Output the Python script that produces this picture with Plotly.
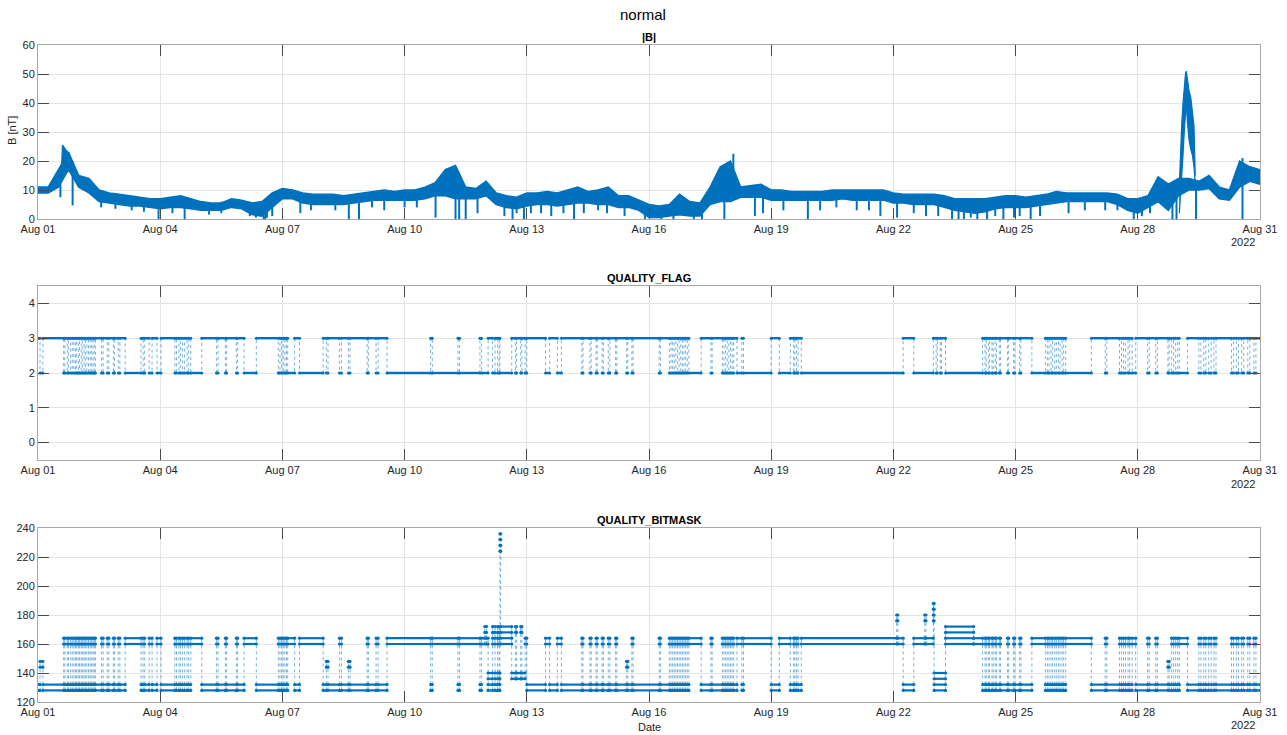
import plotly.graph_objects as go
from datetime import datetime, timedelta

BLUE = "#0072BD"
FONT = "Liberation Sans, Arial, Helvetica, sans-serif"
START = datetime(2022, 8, 1)

# ---------------- axis ticks ----------------
X_TICK_DAYS = [0, 3, 6, 9, 12, 15, 18, 21, 24, 27, 30]
X_TICK_TEXT = ["Aug 01", "Aug 04", "Aug 07", "Aug 10", "Aug 13", "Aug 16",
               "Aug 19", "Aug 22", "Aug 25", "Aug 28", "Aug 31"]
YEAR_TEXT = "2022"

# ---------------- |B| envelope, one reading every 6 h (low / high of band) ----------------
B_STEP_DAYS = 0.25
B_LO = [
    9, 9, 11, 17,        11, 9, 6, 5.5,       5, 4.5, 4.5, 4,      3.5, 4, 4, 3.5,
    3, 3, 3, 4,          3.5, 1.5, 1, 4,      7, 7, 5.5, 5,        5, 5, 5, 5.5,
    6, 6.5, 6.5, 6.5,    6.5, 6.5, 7, 8,      8, 7, 7, 7,          8, 5, 4, 3.5,
    4.5, 5, 5, 4.5,      5, 5.5, 5.5, 5,      5, 4, 4, 3,          0.5, 0.5, 1, 1.5,
    1, 1, 5, 6,          6, 7.5, 7.5, 7.5,    6.5, 6.5, 6.5, 6.5,  6.5, 6.5, 6.5, 7,
    6.5, 6.5, 6.5, 6.5,  5.5, 5.5, 5, 5,      5, 4, 3, 2.5,        2, 2.5, 3.5, 4,
    4, 4, 4.5, 5,        5.5, 6, 6, 6,        6, 6, 5, 3,          2, 4, 6, 3,
    8, 10, 10, 10.5,     7, 6.5, 11, 13,
    12,
]
B_HI = [
    11, 11, 17, 23,      15, 14, 10, 9,       8.5, 8, 7.5, 7,      7, 7.5, 8, 7,
    6, 5.5, 5.5, 7,      6.5, 5.5, 6, 9,      10.5, 10, 9, 8.5,    8.5, 8.5, 8, 8.5,
    9, 9.5, 10, 9.5,     10, 10, 11, 12.5,    17, 18.5, 11, 10.5,  13, 9, 8, 7.5,
    9, 9, 9.5, 9,        10, 11, 9.5, 10,     11, 8, 8, 6.5,       5, 4.5, 5, 8.5,
    6, 5.5, 11, 18,      20, 11, 11.5, 12,    10, 10, 9.5, 9.5,    9.5, 9.5, 10, 10,
    10, 10, 10, 10,      9, 8.5, 8.5, 8.5,    8.5, 8, 7, 7,        7, 7, 7.5, 8,
    8, 7.5, 8, 8.5,      9.5, 9, 9, 9,        9, 9, 8.5, 7,        7, 8, 14.5, 12,
    14, 14, 13, 15,      11, 10, 20, 18,
    17,
]
# storm peak on Aug 01/02 (finer readings)
P1_T = [0.58, 0.60, 0.65, 0.70, 0.75, 0.80, 0.83]
P1_LO = [15, 17, 19, 18, 18, 17, 16]
P1_HI = [18, 25.5, 24.5, 23.5, 23, 21.5, 20]
# storm peak on Aug 29 (finer readings)
P2_T = [28.02, 28.05, 28.08, 28.11, 28.14, 28.17, 28.19, 28.22, 28.26, 28.30, 28.34, 28.38, 28.41]
P2_LO = [2, 8, 14, 22, 30, 38, 40, 33, 27, 24, 22, 18, 12]
P2_HI = [12, 24, 33, 40, 46, 50, 51, 47, 44, 42, 37, 32, 15]

# short excursions (dips / spikes) of |B|
B_SPIKE_T = [0.55, 0.85, 1.55, 1.90, 2.30, 2.60, 2.96, 3.30, 3.60, 4.20,
             4.50, 5.20, 5.35, 5.54, 5.58, 5.62, 5.75, 6.44, 6.70, 7.30,
             7.63, 7.88, 8.20, 8.50, 9.00, 9.30, 9.76, 10.25, 10.34, 10.50,
             10.79, 11.45, 11.65, 11.75, 11.93, 12.10, 12.35, 12.60, 12.90, 13.16,
             13.40, 13.75, 13.97, 14.40, 14.90, 15.30, 15.60, 16.10, 16.30, 16.85,
             17.07, 17.60, 17.80, 18.30, 18.90, 19.20, 19.60, 20.10, 20.40, 20.68,
             21.09, 21.50, 21.80, 22.10, 22.44, 22.60, 22.73, 22.90, 23.06, 23.30,
             23.50, 23.70, 23.96, 24.10, 24.37, 24.60, 25.30, 25.70, 26.20, 26.50,
             26.90, 27.10, 27.30, 27.85, 27.95, 28.43, 29.57]
B_SPIKE_LO = [7.5, 4.7, 4, 3.5, 3, 2.5, 0, 2, 0, 1.5,
              2, 1, 0.5, 0, 0, 0.5, 1, 2, 3, 3,
              0, 0, 4, 3, 4, 4, 0.5, 0, 0, 0,
              2, 1, 0, 2, 0, 2, 2, 1, 2, 0,
              2, 3, 2, 1, 0, 0, 0, 0, 0, 0,
              10, 1, 2, 3, 0, 3, 4, 3, 3, 1,
              0.5, 2, 1, 1, 0, 0, 0, 0.5, 0, 0,
              1, 0, 0.5, 1, 0, 1, 2, 3, 3, 3,
              0, 1, 2, 0, 0, 0, 0]
B_SPIKE_HI = [14, 20, 9, 8, 7, 7, 6, 7, 6, 5.5,
              6, 6, 5, 5, 5, 5, 7, 8, 8, 8,
              7, 7, 9, 9, 9, 9, 8, 12, 12, 10,
              9, 7, 7, 7, 7, 8, 8, 8, 8, 8,
              9, 9, 9, 7, 5, 4, 4, 5, 5, 12,
              22.5, 10, 10, 9, 9, 9, 9, 9, 9, 9,
              8, 8, 8, 8, 7, 7, 6, 6, 6, 7,
              7, 7, 7, 7, 7, 7, 8, 8, 8, 8,
              6, 7, 8, 10, 10, 13, 21]

# ---------------- QUALITY_FLAG: change times (day) and new value ----------------
FLAG_T = [
    0.00, 0.05, 0.12, 0.63, 0.66, 0.72, 0.75, 0.80, 0.84, 0.88, 0.92, 0.95, 0.99,
    1.02, 1.06, 1.09, 1.13, 1.16, 1.20, 1.24, 1.28, 1.31, 1.35, 1.38, 1.41, 1.56, 1.60, 1.70, 1.74, 1.85, 1.88, 1.97,
    2.01, 2.14, 2.53, 2.58, 2.62, 2.73, 2.80, 2.92,
    3.02, 3.36, 3.40, 3.46, 3.50, 3.55, 3.60, 3.66, 3.70, 3.75,
    4.02, 4.38, 4.42, 4.60, 4.63, 4.87, 4.90,
    5.06, 5.36, 5.90, 5.94, 5.98,
    6.02, 6.06, 6.10, 6.13, 6.30, 6.42,
    7.00, 7.08, 7.12, 7.40, 7.45, 7.62, 7.66,
    8.08, 8.11, 8.30, 8.35, 8.57,
    9.64, 9.68,
    10.31, 10.35, 10.85, 10.89,
    11.05, 11.16, 11.22, 11.28, 11.32, 11.34, 11.63, 11.72, 11.75, 11.85, 11.88, 11.96,
    12.00, 12.46, 12.56, 12.75, 12.85,
    13.35, 13.38, 13.55, 13.58, 13.70, 13.73, 13.85, 13.88,
    14.00, 14.04, 14.18, 14.21, 14.45, 14.48, 14.58, 14.61,
    15.25, 15.28, 15.50, 15.54, 15.58, 15.62, 15.66, 15.70, 15.74, 15.78, 15.82, 15.86, 15.90, 15.94, 15.98,
    16.28, 16.52, 16.55, 16.80, 16.84, 16.88, 16.92, 16.96,
    17.00, 17.04, 17.08, 17.16, 17.28, 17.32,
    18.00, 18.20, 18.47, 18.55, 18.58, 18.62, 18.66, 18.74,
    21.24, 21.50, 21.98,
    22.05, 22.08, 22.15, 22.18, 22.28,
    23.19, 23.25, 23.28, 23.33, 23.36, 23.42, 23.45, 23.50, 23.53, 23.60, 23.63, 23.80, 23.83, 23.95, 23.98,
    24.10, 24.13, 24.40, 24.73, 24.78, 24.82, 24.87, 24.91, 24.96,
    25.00, 25.05, 25.09, 25.14, 25.18, 25.23, 25.86,
    26.20, 26.24, 26.55, 26.60, 26.65, 26.70, 26.76, 26.80, 26.86, 26.95,
    27.24, 27.28, 27.44, 27.48, 27.74, 27.77, 27.83, 27.88, 27.93, 27.98,
    28.02, 28.22, 28.50, 28.55, 28.62, 28.67, 28.74, 28.80, 28.87, 28.92,
    29.30, 29.35, 29.42, 29.47, 29.55, 29.60, 29.70, 29.75, 29.85, 29.90,
    30.00,
]
FLAG_V = [
    3, 2, 3, 2, 3, 2, 3, 2, 3, 2, 3, 2, 3,
    2, 3, 2, 3, 2, 3, 2, 3, 2, 3, 2, 3, 2, 3, 2, 3, 2, 3, 2,
    3, 2, 3, 2, 3, 2, 3, 2,
    3, 2, 3, 2, 3, 2, 3, 2, 3, 2,
    3, 2, 3, 2, 3, 2, 3,
    2, 3, 2, 3, 2,
    3, 2, 3, 2, 3, 2,
    3, 2, 3, 2, 3, 2, 3,
    2, 3, 2, 3, 2,
    3, 2,
    3, 2, 3, 2,
    3, 2, 3, 2, 3, 2, 3, 2, 3, 2, 3, 2,
    3, 2, 3, 2, 3,
    2, 3, 2, 3, 2, 3, 2, 3,
    2, 3, 2, 3, 2, 3, 2, 3,
    2, 3, 2, 3, 2, 3, 2, 3, 2, 3, 2, 3, 2, 3, 2,
    3, 2, 3, 2, 3, 2, 3, 2,
    3, 2, 3, 2, 3, 2,
    3, 2, 3, 2, 3, 2, 3, 2,
    3, 2, 3,
    2, 3, 2, 3, 2,
    3, 2, 3, 2, 3, 2, 3, 2, 3, 2, 3, 2, 3, 2, 3,
    2, 3, 2, 3, 2, 3, 2, 3, 2,
    3, 2, 3, 2, 3, 2, 3,
    2, 3, 2, 3, 2, 3, 2, 3, 2, 3,
    2, 3, 2, 3, 2, 3, 2, 3, 2, 3,
    2, 3, 2, 3, 2, 3, 2, 3, 2, 3,
    2, 3, 2, 3, 2, 3, 2, 3, 2, 3,
    3,
]

# ---------------- QUALITY_BITMASK: change times and the levels present ----------------
LO = (128, 132)
HI = (160, 164)
M144 = (144, 148)
M136 = (136, 140)
M168 = (168, 172)
M176 = (176, 180)
LO2 = (128, 132, 136, 140)
HI2 = (160, 164, 168, 172)
M184 = (176, 180, 184, 188)
SPK = (224, 228, 232, 236)

BM_T = [
    0.00, 0.05, 0.12, 0.63, 0.66, 0.72, 0.75, 0.80, 0.84, 0.88, 0.92, 0.95, 0.99,
    1.02, 1.06, 1.09, 1.13, 1.16, 1.20, 1.24, 1.28, 1.31, 1.35, 1.38, 1.41, 1.56, 1.60, 1.70, 1.74, 1.85, 1.88, 1.97,
    2.01, 2.14, 2.53, 2.58, 2.62, 2.73, 2.80, 2.92,
    3.02, 3.36, 3.40, 3.46, 3.50, 3.55, 3.60, 3.66, 3.70, 3.75,
    4.02, 4.38, 4.42, 4.60, 4.63, 4.87, 4.90,
    5.06, 5.36, 5.90, 5.94, 5.98,
    6.02, 6.06, 6.10, 6.13, 6.30, 6.42,
    7.00, 7.08, 7.12, 7.40, 7.45, 7.62, 7.66,
    8.08, 8.11, 8.30, 8.35, 8.57,
    9.64, 9.68,
    10.31, 10.35, 10.85, 10.89, 10.97,
    11.01, 11.05, 11.16, 11.22, 11.28, 11.32, 11.34, 11.36, 11.63, 11.72, 11.75, 11.85, 11.88, 11.96,
    12.00, 12.46, 12.56, 12.75, 12.85,
    13.35, 13.38, 13.55, 13.58, 13.70, 13.73, 13.85, 13.88,
    14.00, 14.04, 14.18, 14.21, 14.45, 14.48, 14.58, 14.61,
    15.25, 15.28, 15.50, 15.54, 15.58, 15.62, 15.66, 15.70, 15.74, 15.78, 15.82, 15.86, 15.90, 15.94, 15.98,
    16.28, 16.52, 16.55, 16.80, 16.84, 16.88, 16.92, 16.96,
    17.00, 17.04, 17.08, 17.16, 17.28, 17.32,
    18.00, 18.20, 18.47, 18.55, 18.58, 18.62, 18.66, 18.74,
    21.08, 21.11, 21.24, 21.50, 21.77, 21.80, 21.98,
    22.00, 22.28, 22.97,
    23.19, 23.25, 23.28, 23.33, 23.36, 23.42, 23.45, 23.50, 23.53, 23.60, 23.63, 23.80, 23.83, 23.95, 23.98,
    24.10, 24.13, 24.40, 24.73, 24.78, 24.82, 24.87, 24.91, 24.96,
    25.00, 25.05, 25.09, 25.14, 25.18, 25.23, 25.86,
    26.20, 26.24, 26.55, 26.60, 26.65, 26.70, 26.76, 26.80, 26.86, 26.95,
    27.24, 27.28, 27.44, 27.48, 27.74, 27.77, 27.83, 27.88, 27.93, 27.98,
    28.02, 28.22, 28.50, 28.55, 28.62, 28.67, 28.74, 28.80, 28.87, 28.92,
    29.30, 29.35, 29.42, 29.47, 29.55, 29.60, 29.70, 29.75, 29.85, 29.90,
    30.00,
]
BM_LV = [
    LO, M144, LO, HI, LO, HI, LO, HI, LO, HI, LO, HI, LO,
    HI, LO, HI, LO, HI, LO, HI, LO, HI, LO, HI, LO, HI, LO, HI, LO, HI, LO, HI,
    LO, HI, LO, HI, LO, HI, LO, HI,
    LO, HI, LO, HI, LO, HI, LO, HI, LO, HI,
    LO, HI, LO, HI, LO, HI, LO,
    HI, LO, HI, LO, HI,
    LO, HI, LO, HI, LO, HI,
    LO, M144, LO, HI, LO, M144, LO,
    HI, LO, HI, LO, HI,
    LO, HI,
    LO, HI, LO, HI, M168,
    HI, LO2, HI2, LO2, HI2, LO2, SPK, HI2, M136, M168, M136, M168, M136, HI,
    LO, HI, LO, HI, LO,
    HI, LO, HI, LO, HI, LO, HI, LO,
    HI, LO, HI, LO, M144, LO, HI, LO,
    HI, LO, HI, LO, HI, LO, HI, LO, HI, LO, HI, LO, HI, LO, HI,
    LO, HI, LO, HI, LO, HI, LO, HI,
    LO, HI, LO, HI, LO, HI,
    LO, HI, LO, HI, LO, HI, LO, HI,
    M176, HI, LO, HI, M176, HI, M184,
    LO2, HI2, HI,
    LO, HI, LO, HI, LO, HI, LO, HI, LO, HI, LO, HI, LO, HI, LO,
    HI, LO, HI, LO, HI, LO, HI, LO, HI,
    LO, HI, LO, HI, LO, HI, LO,
    HI, LO, HI, LO, HI, LO, HI, LO, HI, LO,
    HI, LO, HI, LO, M144, LO, HI, LO, HI, LO,
    HI, LO, HI, LO, HI, LO, HI, LO, HI, LO,
    HI, LO, HI, LO, HI, LO, HI, LO, HI, LO,
    LO,
]

assert len(B_LO) == len(B_HI)
assert len(B_SPIKE_T) == len(B_SPIKE_LO) == len(B_SPIKE_HI)
assert len(FLAG_T) == len(FLAG_V)
assert len(BM_T) == len(BM_LV)


def d2t(d):
    return START + timedelta(days=d)


fig = go.Figure()


def add_band(ts, lo, hi, width=1.5):
    tt = [d2t(t) for t in ts]
    fig.add_trace(go.Scatter(x=tt, y=lo, mode="lines", line=dict(color=BLUE, width=width),
                             xaxis="x", yaxis="y", showlegend=False, hoverinfo="skip"))
    fig.add_trace(go.Scatter(x=tt, y=hi, mode="lines", line=dict(color=BLUE, width=width),
                             fill="tonexty", fillcolor=BLUE,
                             xaxis="x", yaxis="y", showlegend=False, hoverinfo="skip"))


# ---------- panel 1 : |B| ----------
add_band([i * B_STEP_DAYS for i in range(len(B_LO))], B_LO, B_HI)
add_band(P1_T, P1_LO, P1_HI, 1.2)
add_band(P2_T, P2_LO, P2_HI, 1.2)
sx, sy = [], []
for t, lo, hi in zip(B_SPIKE_T, B_SPIKE_LO, B_SPIKE_HI):
    sx += [d2t(t), d2t(t), None]
    sy += [lo, hi, None]
fig.add_trace(go.Scatter(x=sx, y=sy, mode="lines", line=dict(color=BLUE, width=2),
                         xaxis="x", yaxis="y", showlegend=False, hoverinfo="skip"))

# ---------- panel 2 : QUALITY_FLAG ----------
f_t = [d2t(t) for t in FLAG_T]
fig.add_trace(go.Scatter(x=f_t, y=FLAG_V, mode="lines",
                         line=dict(color="rgba(0,114,189,0.55)", width=1, dash="dot", shape="hv"),
                         xaxis="x2", yaxis="y2", showlegend=False, hoverinfo="skip"))
hx, hy, mx, my = [], [], [], []
for i in range(len(FLAG_T) - 1):
    hx += [d2t(FLAG_T[i]), d2t(FLAG_T[i + 1]), None]
    hy += [FLAG_V[i], FLAG_V[i], None]
    mx += [d2t(FLAG_T[i]), d2t(FLAG_T[i + 1])]
    my += [FLAG_V[i], FLAG_V[i]]
fig.add_trace(go.Scatter(x=hx, y=hy, mode="lines", line=dict(color=BLUE, width=2.4),
                         xaxis="x2", yaxis="y2", showlegend=False, hoverinfo="skip"))
fig.add_trace(go.Scatter(x=mx, y=my, mode="markers", marker=dict(color=BLUE, size=3),
                         xaxis="x2", yaxis="y2", showlegend=False, hoverinfo="skip"))

# ---------- panel 3 : QUALITY_BITMASK ----------
vx, vy, hx, hy, mx, my = [], [], [], [], [], []
for i in range(len(BM_T) - 1):
    t0, t1 = d2t(BM_T[i]), d2t(BM_T[i + 1])
    for v in BM_LV[i]:
        hx += [t0, t1, None]
        hy += [v, v, None]
        mx += [t0, t1]
        my += [v, v]
    if i > 0:
        both = BM_LV[i - 1] + BM_LV[i]
        vx += [t0, t0, None]
        vy += [min(both), max(both), None]
fig.add_trace(go.Scatter(x=vx, y=vy, mode="lines",
                         line=dict(color="rgba(0,114,189,0.55)", width=1, dash="dot"),
                         xaxis="x3", yaxis="y3", showlegend=False, hoverinfo="skip"))
fig.add_trace(go.Scatter(x=hx, y=hy, mode="lines", line=dict(color=BLUE, width=2.2),
                         xaxis="x3", yaxis="y3", showlegend=False, hoverinfo="skip"))
fig.add_trace(go.Scatter(x=mx, y=my, mode="markers", marker=dict(color=BLUE, size=3.2),
                         xaxis="x3", yaxis="y3", showlegend=False, hoverinfo="skip"))

# ---------- layout ----------
W, H = 1287, 735
L_PX, R_PX = 38, 1260


def yd(top_px, bot_px):
    return [1 - bot_px / H, 1 - top_px / H]


tickfont = dict(family=FONT, size=11, color="#262626")
xcommon = dict(type="date", range=[d2t(0), d2t(30)], tickmode="array",
               tickvals=[d2t(d) for d in X_TICK_DAYS], ticktext=X_TICK_TEXT,
               showgrid=True, gridcolor="#e4e4e4", gridwidth=1, zeroline=False,
               ticks="inside", ticklen=11, tickwidth=1, tickcolor="#4a4a4a",
               showline=True, linecolor="#a8a8a8", linewidth=1, mirror="ticks",
               tickfont=tickfont, domain=[0, 1], automargin=False)
ycommon = dict(showgrid=True, gridcolor="#e4e4e4", gridwidth=1, zeroline=False,
               ticks="inside", ticklen=11, tickwidth=1, tickcolor="#4a4a4a",
               showline=True, linecolor="#a8a8a8", linewidth=1, mirror="ticks",
               tickfont=tickfont, automargin=False)

fig.update_layout(
    width=W, height=H,
    margin=dict(l=L_PX, r=W - R_PX, t=0, b=0, autoexpand=False),
    paper_bgcolor="white", plot_bgcolor="white",
    font=dict(family=FONT, size=11, color="#262626"),
    xaxis=dict(xcommon, anchor="y"),
    xaxis2=dict(xcommon, anchor="y2"),
    xaxis3=dict(xcommon, anchor="y3"),
    yaxis=dict(ycommon, domain=yd(45, 219), range=[0, 60], tickvals=[0, 10, 20, 30, 40, 50, 60], anchor="x"),
    yaxis2=dict(ycommon, domain=yd(286, 460), range=[-0.5, 4.5], tickvals=[0, 1, 2, 3, 4], anchor="x2"),
    yaxis3=dict(ycommon, domain=yd(528, 702), range=[120, 240],
                tickvals=[120, 140, 160, 180, 200, 220, 240], anchor="x3"),
)


def xp(px):
    return (px - L_PX) / (R_PX - L_PX)


def ypp(px):
    return 1 - px / H


ann = [
    dict(text="normal", x=xp(643), y=ypp(14), font=dict(size=15, color="#000000")),
    dict(text="<b>|B|</b>", x=xp(649), y=ypp(37), font=dict(size=11, color="#000000")),
    dict(text="<b>QUALITY_FLAG</b>", x=xp(649), y=ypp(278), font=dict(size=11, color="#000000")),
    dict(text="<b>QUALITY_BITMASK</b>", x=xp(649), y=ypp(520), font=dict(size=11, color="#000000")),
    dict(text="Date", x=xp(649), y=ypp(727), font=dict(size=11, color="#262626")),
    dict(text="B [nT]", x=xp(12), y=ypp(131), textangle=-90, font=dict(size=11, color="#262626")),
    dict(text=YEAR_TEXT, x=xp(1243), y=ypp(242), font=dict(size=11, color="#262626")),
    dict(text=YEAR_TEXT, x=xp(1243), y=ypp(484), font=dict(size=11, color="#262626")),
    dict(text=YEAR_TEXT, x=xp(1243), y=ypp(725), font=dict(size=11, color="#262626")),
]
for a in ann:
    a.update(xref="paper", yref="paper", showarrow=False, xanchor="center", yanchor="middle")
    a["font"]["family"] = FONT
fig.update_layout(annotations=ann)

fig.write_html("out.html", config={"displayModeBar": False},
               post_script="document.body.style.margin='0px';")
